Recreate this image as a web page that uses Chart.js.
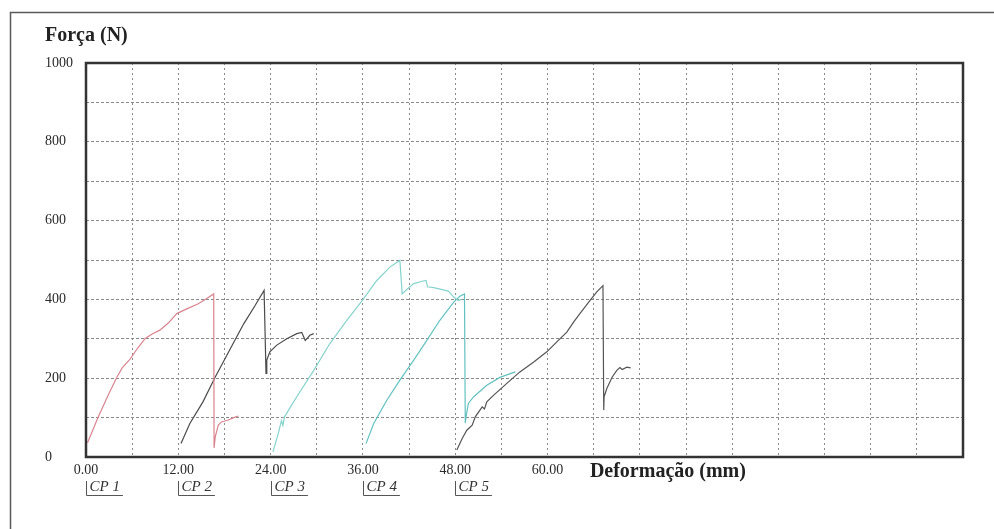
<!DOCTYPE html>
<html>
<head>
<meta charset="utf-8">
<script src="https://cdn.jsdelivr.net/npm/chart.js@4/dist/chart.umd.min.js"></script>
<style>
  html, body { margin: 0; padding: 0; background: #fff; }
  canvas { display: block; }
</style>
</head>
<body>
<canvas id="c" width="994" height="529"></canvas>
<script>
// Force vs. deformation curves for five test specimens (CP 1 .. CP 5)
const specimenNames = ['CP 1', 'CP 2', 'CP 3', 'CP 4', 'CP 5'];
const specimenStart = [0, 12, 24, 36, 48];   // deformation offset where each trace begins (mm)

const cp1X = [0.2, 1.6, 3.0, 4.0, 4.7, 5.7, 6.7, 7.7, 8.6, 9.6, 10.7, 11.8, 13.1, 14.6, 15.7, 16.6, 16.65, 16.8, 17.2, 17.6, 18.5, 19.2, 19.8];
const cp1Y = [36, 102, 162, 202, 226, 248, 276, 301, 312, 322, 340, 364, 376, 389, 402, 414, 23, 51, 81, 89, 94, 100, 104];

const cp2X = [12.35, 13.5, 15.2, 16.8, 18.5, 20.5, 22.0, 23.15, 23.4, 23.5, 23.9, 24.8, 26.1, 27.4, 28.05, 28.5, 28.7, 29.1, 29.6];
const cp2Y = [34, 85, 140, 203, 265, 338, 385, 423, 212, 246, 267, 284, 300, 313, 316, 296, 300, 309, 313];

const cp3X = [24.3, 25.0, 25.4, 25.6, 25.8, 27.4, 29.6, 31.7, 33.9, 35.9, 37.8, 39.5, 40.8, 41.1, 41.7, 42.6, 43.7, 44.2, 44.4, 45.2, 46.3, 47.1, 47.8, 48.4, 48.8];
const cp3Y = [13, 60, 92, 80, 102, 153, 220, 288, 347, 397, 448, 482, 499, 414, 425, 440, 446, 448, 432, 430, 425, 421, 406, 397, 400];

const cp4X = [36.4, 37.4, 39.1, 40.8, 42.6, 44.3, 46.0, 47.8, 48.6, 49.2, 49.3, 49.4, 49.7, 50.4, 52.1, 53.8, 55.8];
const cp4Y = [34, 85, 144, 195, 246, 296, 347, 393, 408, 414, 86, 102, 136, 153, 182, 202, 216];

const cp5X = [48.2, 48.9, 49.5, 50.2, 50.6, 51.5, 51.8, 52.1, 53.0, 54.7, 56.4, 58.2, 59.9, 61.4, 62.5, 63.4, 64.2, 65.5, 66.4, 67.2, 67.3, 67.35, 67.7, 68.4, 69.0, 69.4, 69.7, 70.3, 70.8];
const cp5Y = [18, 47, 68, 81, 102, 127, 122, 140, 157, 187, 216, 241, 267, 296, 317, 343, 364, 397, 419, 435, 119, 153, 174, 203, 220, 227, 222, 228, 226];

const seriesX = [cp1X, cp2X, cp3X, cp4X, cp5X];
const seriesY = [cp1Y, cp2Y, cp3Y, cp4Y, cp5Y];
const seriesColors = ['#d9848f', '#4b4b4b', '#86d3cd', '#62c1c0', '#555555'];

// axis ranges and labelling
const xMax = 114, xStep = 6, xLabelStep = 12, xLabelLast = 60;
const yMax = 1000, yStep = 100, yLabelStep = 200;

const serif = '"Liberation Serif", "DejaVu Serif", serif';

const datasets = seriesX.map((xs, i) => ({
  label: specimenNames[i],
  data: xs.map((x, j) => ({ x: x, y: seriesY[i][j] })),
  borderColor: seriesColors[i],
  borderWidth: 1.2,
  pointRadius: 0,
  showLine: true,
  tension: 0,
  fill: false
}));

const decorations = {
  id: 'decorations',
  beforeDraw(chart) {
    const ctx = chart.ctx;
    ctx.save();
    ctx.fillStyle = '#ffffff';
    ctx.fillRect(0, 0, chart.width, chart.height);
    // page frame
    ctx.strokeStyle = '#5a5a5a';
    ctx.lineWidth = 1.5;
    ctx.beginPath();
    ctx.moveTo(10.5, chart.height);
    ctx.lineTo(10.5, 12.5);
    ctx.lineTo(chart.width, 12.5);
    ctx.stroke();
    ctx.restore();
  },
  afterDraw(chart) {
    const ctx = chart.ctx;
    const a = chart.chartArea;
    const xs = chart.scales.x;
    ctx.save();
    // plot box
    ctx.strokeStyle = '#333333';
    ctx.lineWidth = 2.5;
    ctx.strokeRect(a.left, a.top, a.right - a.left, a.bottom - a.top);

    // axis titles
    ctx.fillStyle = '#222222';
    ctx.font = 'bold 20px ' + serif;
    ctx.textBaseline = 'middle';
    ctx.textAlign = 'left';
    ctx.fillText('Força (N)', 45, 36);
    ctx.fillText('Deformação (mm)', xs.getPixelForValue(65.5), 472);

    // specimen markers under the x axis
    ctx.font = 'italic 15px ' + serif;
    ctx.textBaseline = 'alphabetic';
    ctx.strokeStyle = '#555555';
    ctx.lineWidth = 1;
    specimenNames.forEach((name, i) => {
      const px = Math.round(xs.getPixelForValue(specimenStart[i])) + 0.5;
      const w = ctx.measureText(name).width;
      ctx.fillStyle = '#333333';
      ctx.fillText(name, px + 3, 491);
      ctx.beginPath();
      ctx.moveTo(px, 481);
      ctx.lineTo(px, 495.5);
      ctx.lineTo(px + w + 6, 495.5);
      ctx.stroke();
    });
    ctx.restore();
  }
};

new Chart(document.getElementById('c'), {
  type: 'scatter',
  data: { datasets: datasets },
  options: {
    responsive: false,
    animation: false,
    layout: { padding: { left: 45, top: 63, right: 31, bottom: 0 } },
    plugins: {
      legend: { display: false },
      tooltip: { enabled: false }
    },
    scales: {
      x: {
        type: 'linear',
        min: 0,
        max: xMax,
        afterFit(scale) { scale.height = 72; },
        ticks: {
          stepSize: xStep,
          autoSkip: false,
          maxRotation: 0,
          padding: 5,
          color: '#2a2a2a',
          font: { family: serif, size: 14 },
          callback: (v) => (v % xLabelStep === 0 && v <= xLabelLast) ? v.toFixed(2) : ''
        },
        grid: { color: '#8a8a8a', lineWidth: 1, drawTicks: false },
        border: { display: false, dash: [2, 3] }
      },
      y: {
        type: 'linear',
        min: 0,
        max: yMax,
        afterFit(scale) { scale.width = 41; },
        ticks: {
          stepSize: yStep,
          autoSkip: false,
          crossAlign: 'far',
          padding: 4,
          color: '#2a2a2a',
          font: { family: serif, size: 14 },
          callback: (v) => (v % yLabelStep === 0) ? String(v) : ''
        },
        grid: { color: '#8a8a8a', lineWidth: 1, drawTicks: false },
        border: { display: false, dash: [3, 2] }
      }
    }
  },
  plugins: [decorations]
});
</script>
</body>
</html>
